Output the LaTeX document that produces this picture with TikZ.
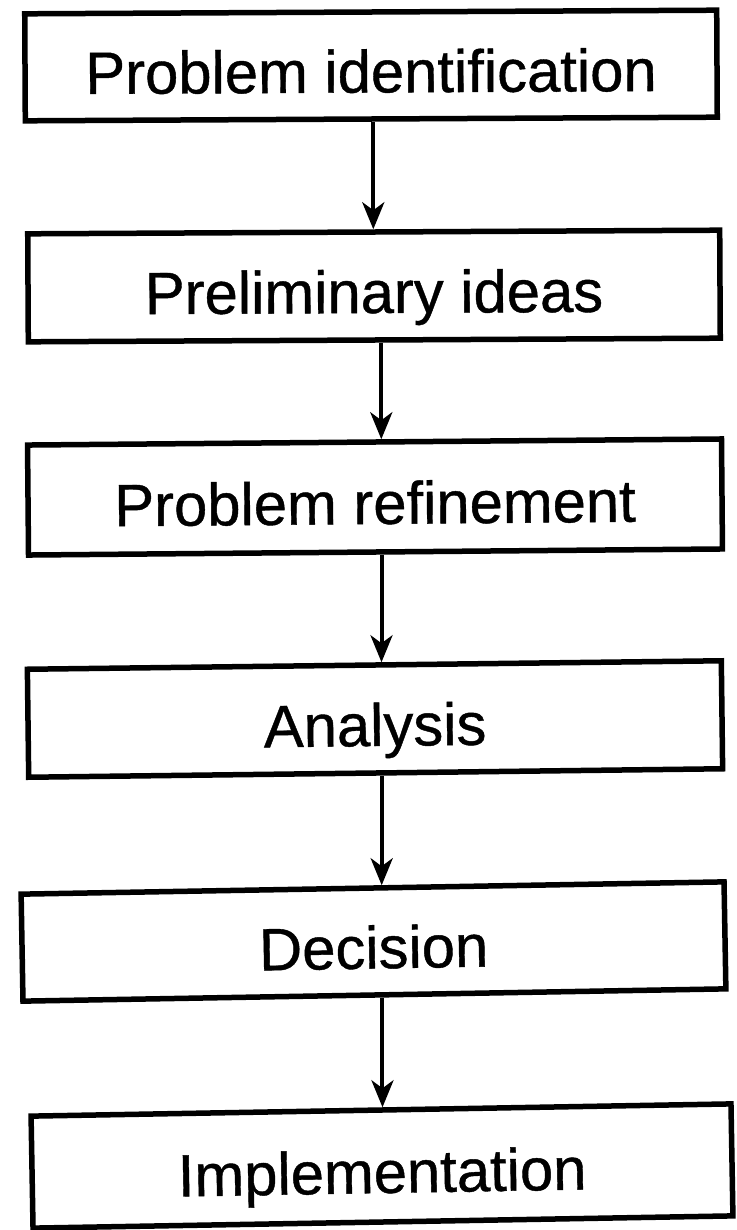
\documentclass[tikz,border=0pt]{standalone}
\usepackage{fontspec}
\setmainfont{Liberation Sans}
\newfontface\stepfont{Liberation Sans}[FakeBold=0.7]
\usetikzlibrary{arrows.meta}
\begin{document}
\begin{tikzpicture}[x=1bp,y=-1bp,
  stepbox/.style={draw=black, line width=5.5bp, rectangle, inner sep=0pt,
    minimum width=692bp, minimum height=108bp,
    font=\stepfont\fontsize{60}{72}\selectfont, text height=56bp, text depth=2bp},
  flow/.style={line width=4bp, -{Stealth[length=27bp,width=22bp,inset=8bp]}}]
\useasboundingbox (0,0) rectangle (737,1230);
\fill[white] (0,0) rectangle (737,1230);

% process steps, top to bottom (the sheet is slightly skewed)
\node[stepbox, minimum height=107bp, rotate=0.3] (b1) at (371,65.5) {Problem identification};
\node[stepbox, rotate=0.3] (b2) at (374,286) {Preliminary ideas};
\node[stepbox, minimum width=694bp, minimum height=110bp, rotate=0.5] (b3) at (375,497) {Problem refinement};
\node[stepbox, minimum width=694bp, rotate=0.7] (b4) at (375,719) {Analysis};
\node[stepbox, minimum width=703bp, minimum height=107bp, rotate=1] (b5) at (373.5,941.5) {Decision};
\node[stepbox, minimum width=700bp, minimum height=112bp, rotate=1] (b6) at (382,1166) {Implementation};

% connectors
\draw[flow] ([xshift=2bp]b1.south) -- ([xshift=2bp]b1.south |- b2.north);
\draw[flow] ([xshift=7bp]b2.south) -- ([xshift=7bp]b2.south |- b3.north);
\draw[flow] ([xshift=6bp]b3.south) -- ([xshift=6bp]b3.south |- b4.north);
\draw[flow] ([xshift=6bp]b4.south) -- ([xshift=6bp]b4.south |- b5.north);
\draw[flow] ([xshift=8bp]b5.south) -- ([xshift=8bp]b5.south |- b6.north);
\end{tikzpicture}
\end{document}
